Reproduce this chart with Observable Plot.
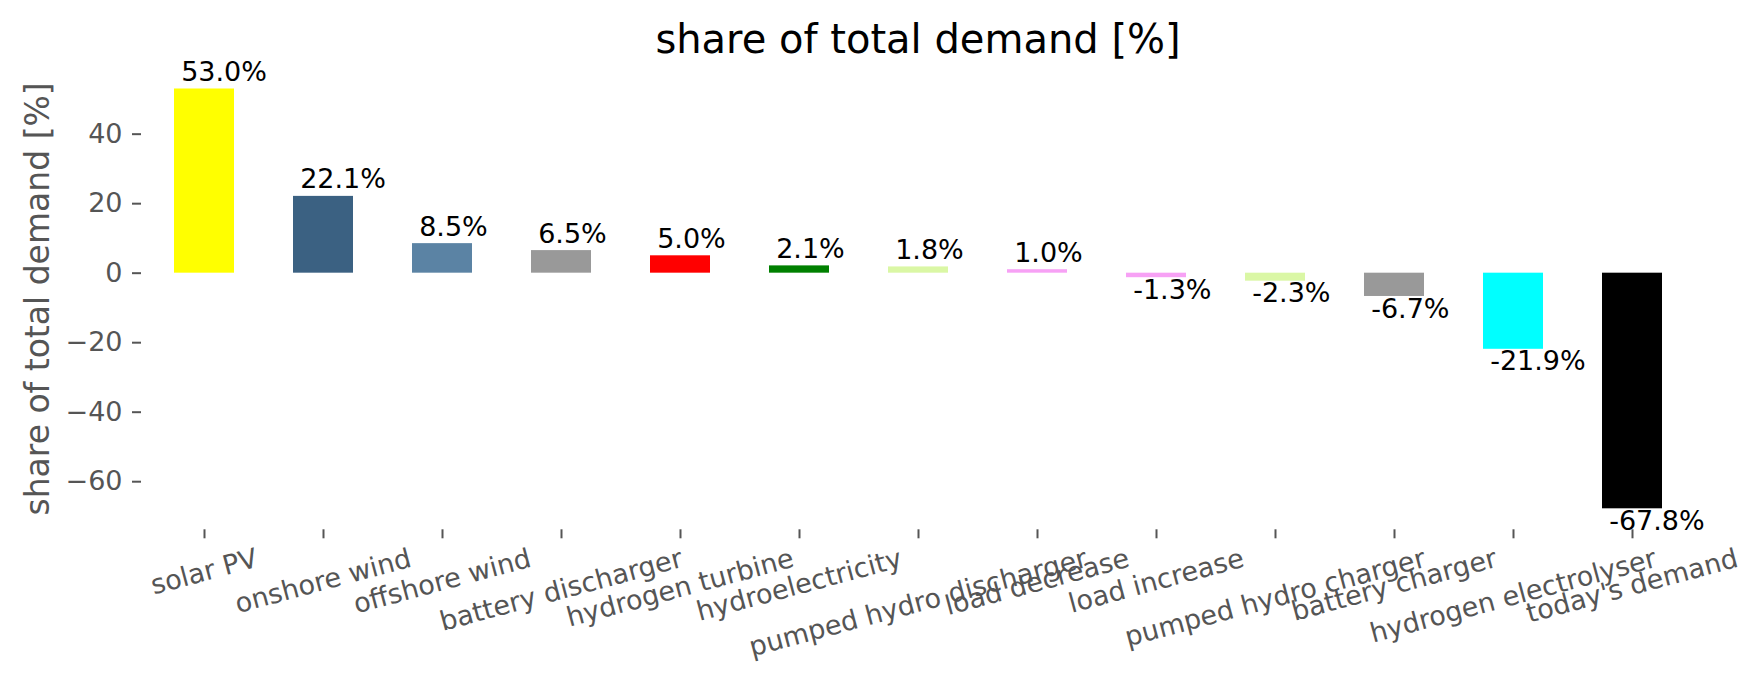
<!DOCTYPE html>
<html>
<head>
<meta charset="utf-8">
<script src="https://cdn.jsdelivr.net/npm/d3@7"></script>
<script src="https://cdn.jsdelivr.net/npm/@observablehq/plot@0.6"></script>
<style>
  html, body { margin: 0; padding: 0; background: #ffffff; }
  #chart svg { display: block; }
</style>
</head>
<body>
<div id="chart"></div>
<script>
// ---- data ----
const categories = [
  "solar PV", "onshore wind", "offshore wind", "battery discharger",
  "hydrogen turbine", "hydroelectricity", "pumped hydro discharger",
  "load decrease", "load increase", "pumped hydro charger",
  "battery charger", "hydrogen electrolyser", "today's demand"
];
const values = [53.0, 22.1, 8.5, 6.5, 5.0, 2.1, 1.8, 1.0, -1.3, -2.3, -6.7, -21.9, -67.8];
const colors = [
  "#ffff00", "#3b6182", "#5b83a4", "#999999",
  "#ff0000", "#008000", "#daf7a5",
  "#f7a1f5", "#f7a1f5", "#daf7a5",
  "#999999", "#00ffff", "#000000"
];
const yTicks = [-60, -40, -20, 0, 20, 40];
const titleText = "share of total demand [%]";
const yLabelText = "share of total demand [%]";

// ---- layout ----
const W = 1764, H = 689;
const mLeft = 141, mRight = 70, mTop = 67.5, mBottom = 159.7;
const font = "DejaVu Sans";
const tickFont = 27;

const data = categories.map((c, i) => ({
  category: c, value: values[i], color: colors[i],
  label: values[i].toFixed(1) + "%"
}));
const vmin = d3.min(values), vmax = d3.max(values);
const vpad = (vmax - vmin) * 0.05;

const step = (W - mLeft - mRight) / categories.length;
const bandwidth = step * 0.5;

// measure label widths so each rotated label's top sits just below the ticks
const ctx = document.createElement("canvas").getContext("2d");
ctx.font = `${tickFont}px '${font}'`;
const sin15 = Math.sin(15 * Math.PI / 180);

const xLabelMarks = categories.map(c => {
  const w = ctx.measureText(c).width;
  return Plot.text([c], {
    x: d => d, text: d => d,
    frameAnchor: "bottom",
    rotate: -15, textAnchor: "middle", lineAnchor: "top",
    dy: 18 + sin15 * w / 2,
    dx: -3,
    fontSize: tickFont, fill: "#555555"
  });
});

const chart = Plot.plot({
  width: W, height: H,
  marginLeft: mLeft, marginRight: mRight, marginTop: mTop, marginBottom: mBottom,
  style: { fontFamily: font, background: "#ffffff" },
  x: { domain: categories, paddingInner: 0.5, paddingOuter: 0.25 },
  y: { domain: [vmin - vpad, vmax + vpad] },
  color: { type: "identity" },
  marks: [
    Plot.barY(data, { x: "category", y: "value", fill: "color" }),
    Plot.axisX({ tickSize: 9, tickFormat: () => "", label: null, stroke: "#555555", strokeWidth: 2 }),
    Plot.axisY({
      ticks: yTicks, tickSize: 9, tickPadding: 10, label: null,
      fontSize: tickFont, fill: "#555555", stroke: "#555555", strokeWidth: 2
    }),
    // value labels
    Plot.text(data.filter(d => d.value >= 0), {
      x: "category", y: "value", text: "label",
      textAnchor: "start", lineAnchor: "bottom",
      dx: -bandwidth / 2 + 6.5, dy: -8,
      fontSize: 27, fill: "#000000"
    }),
    Plot.text(data.filter(d => d.value < 0), {
      x: "category", y: "value", text: "label",
      textAnchor: "start", lineAnchor: "top",
      dx: -bandwidth / 2 + 6.5, dy: 2,
      fontSize: 27, fill: "#000000"
    }),
    ...xLabelMarks,
    // y axis label
    Plot.text([yLabelText], {
      frameAnchor: "left", text: d => d, rotate: -90,
      textAnchor: "middle", lineAnchor: "bottom",
      dx: -(mLeft - 48), fontSize: 33, fill: "#555555"
    }),
    // title
    Plot.text([titleText], {
      frameAnchor: "top", text: d => d,
      textAnchor: "middle", lineAnchor: "bottom",
      dy: 52 - mTop, fontSize: 40, fill: "#000000"
    })
  ]
});
document.getElementById("chart").appendChild(chart);
</script>
</body>
</html>
